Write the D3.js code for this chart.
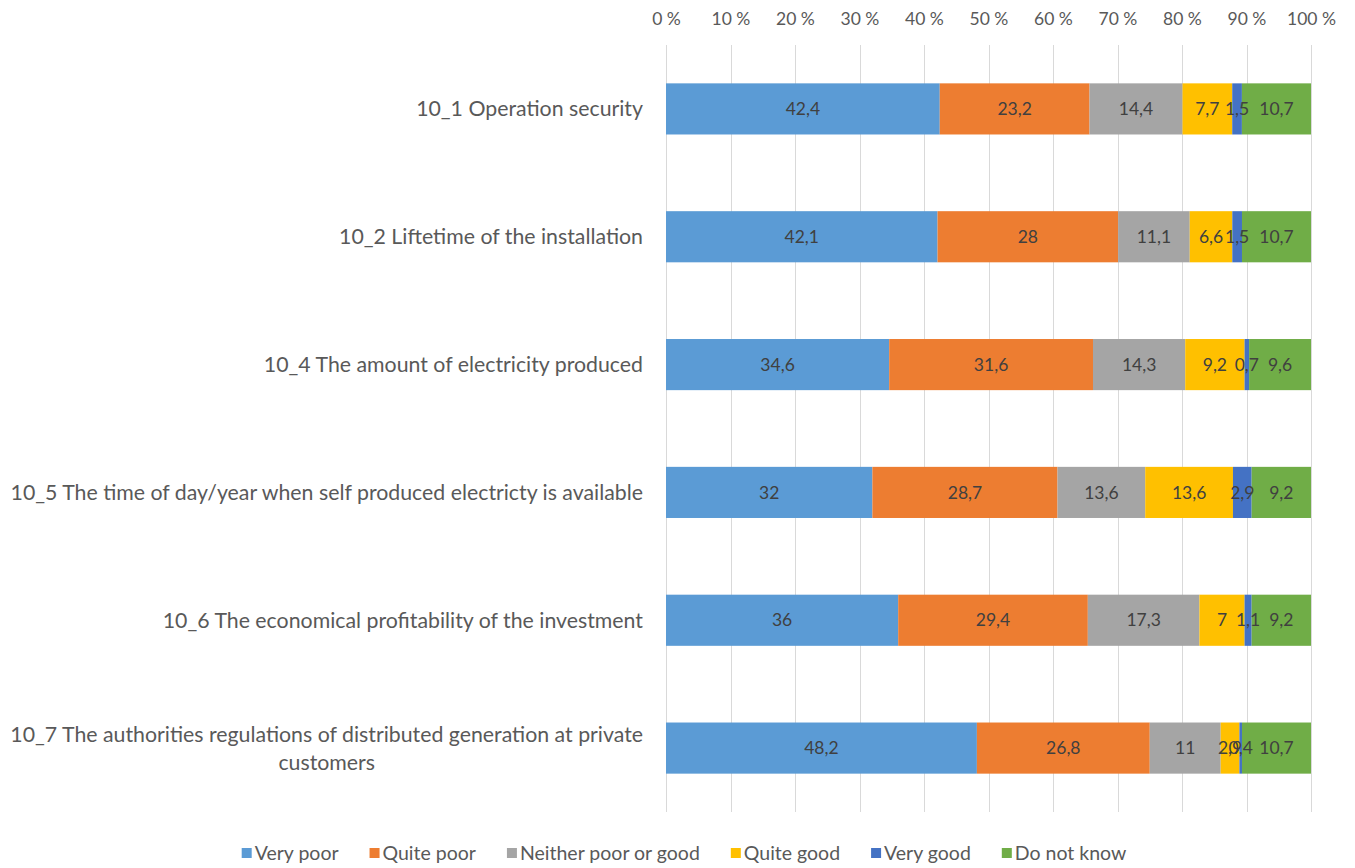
<!DOCTYPE html>
<html>
<head>
<meta charset="utf-8">
<script src="https://cdn.jsdelivr.net/npm/d3@7"></script>
<style>
  html, body { margin: 0; padding: 0; background: #ffffff; }
  svg { display: block; font-family: Lato, "Open Sans", sans-serif; }
</style>
</head>
<body>
<svg id="chart" width="1355" height="868"></svg>
<script>
// Questions (rows of the chart)
const categories = [
  "10_1 Operation security",
  "10_2 Liftetime of the installation",
  "10_4 The amount of electricity produced",
  "10_5 The time of day/year when self produced electricty is available",
  "10_6 The economical profitability of the investment",
  "10_7 The authorities regulations of distributed generation at private customers"
];

// Answer options (stack order, left to right)
const seriesNames = ["Very poor", "Quite poor", "Neither poor or good", "Quite good", "Very good", "Do not know"];
const seriesColors = ["#5B9BD5", "#ED7D31", "#A5A5A5", "#FFC000", "#4472C4", "#70AD47"];

// Percent of respondents per answer, one array per answer option
const veryPoor   = [42.4, 42.1, 34.6, 32.0, 36.0, 48.2];
const quitePoor  = [23.2, 28.0, 31.6, 28.7, 29.4, 26.8];
const neither    = [14.4, 11.1, 14.3, 13.6, 17.3, 11.0];
const quiteGood  = [7.7, 6.6, 9.2, 13.6, 7.0, 2.9];
const veryGood   = [1.5, 1.5, 0.7, 2.9, 1.1, 0.4];
const doNotKnow  = [10.7, 10.7, 9.6, 9.2, 9.2, 10.7];

// Axis ticks
const tickValues = [0, 10, 20, 30, 40, 50, 60, 70, 80, 90, 100];

const seriesValues = [veryPoor, quitePoor, neither, quiteGood, veryGood, doNotKnow];

// Build rows; each row is normalised to 100 % like a 100 % stacked bar
const rows = categories.map((c, i) => {
  const r = { category: c };
  seriesNames.forEach((s, j) => { r[s] = seriesValues[j][i]; });
  return r;
});
const stack = d3.stack().keys(seriesNames).offset(d3.stackOffsetExpand);
const stacked = stack(rows);

const svg = d3.select("#chart");

const plot = { left: 666, right: 1311, top: 45, bottom: 812 };

const x = d3.scaleLinear().domain([0, 1]).range([plot.left, plot.right]);
const y = d3.scaleBand().domain(categories)
  .range([plot.top, plot.bottom])
  .paddingInner(0.6).paddingOuter(0.3);

const color = d3.scaleOrdinal().domain(seriesNames).range(seriesColors);

const locale = d3.formatLocale({ decimal: ",", thousands: " ", grouping: [3], currency: ["", ""] });
const fmtVal = v => locale.format("~f")(Math.round(v * 10) / 10);

// Vertical gridlines
svg.append("g").selectAll("line")
  .data(tickValues)
  .join("line")
  .attr("x1", d => Math.round(x(d / 100)) + 0.5)
  .attr("x2", d => Math.round(x(d / 100)) + 0.5)
  .attr("y1", plot.top)
  .attr("y2", plot.bottom)
  .attr("stroke", "#D9D9D9")
  .attr("stroke-width", 1);

// Top axis labels
const axis = d3.axisTop(x)
  .tickValues(tickValues.map(t => t / 100))
  .tickSize(0)
  .tickPadding(0)
  .tickFormat(d => Math.round(d * 100) + " %");
const axisG = svg.append("g")
  .attr("transform", "translate(0, 25)")
  .call(axis);
axisG.select(".domain").remove();
axisG.selectAll("text")
  .attr("fill", "#595959")
  .style("font-family", "Lato, sans-serif")
  .style("font-size", "17.5px");

// Stacked bars
const layers = svg.append("g").selectAll("g")
  .data(stacked)
  .join("g")
  .attr("fill", d => color(d.key));

layers.selectAll("rect")
  .data(d => d.map(p => ({ key: d.key, p })))
  .join("rect")
  .attr("x", d => x(d.p[0]))
  .attr("width", d => x(d.p[1]) - x(d.p[0]))
  .attr("y", d => y(d.p.data.category))
  .attr("height", y.bandwidth());

// Value labels inside segments
const labelG = svg.append("g")
  .style("font-size", "17.5px")
  .attr("fill", "#404040")
  .attr("text-anchor", "middle");
stacked.forEach(layer => {
  layer.forEach(p => {
    labelG.append("text")
      .attr("x", (x(p[0]) + x(p[1])) / 2)
      .attr("y", y(p.data.category) + y.bandwidth() / 2)
      .attr("dy", "0.35em")
      .text(fmtVal(p.data[layer.key]));
  });
});

// Category labels, right-aligned block; long labels wrap to centered lines
const catG = svg.append("g")
  .attr("fill", "#595959")
  .style("font-size", "21.3px");
const labelRight = 643;
const maxLineWidth = 640;
categories.forEach(c => {
  const t = catG.append("text");
  const words = c.split(" ");
  const lines = [];
  let line = [];
  const probe = catG.append("text");
  words.forEach(w => {
    const trial = line.concat(w).join(" ");
    probe.text(trial);
    if (probe.node().getComputedTextLength() > maxLineWidth && line.length) {
      lines.push(line.join(" "));
      line = [w];
    } else {
      line.push(w);
    }
  });
  lines.push(line.join(" "));
  const widths = lines.map(l => { probe.text(l); return probe.node().getComputedTextLength(); });
  probe.remove();
  const blockW = d3.max(widths);
  const cy = y(c) + y.bandwidth() / 2;
  const lh = 28;
  t.attr("text-anchor", "middle")
    .attr("x", labelRight - blockW / 2);
  lines.forEach((l, i) => {
    t.append("tspan")
      .attr("x", labelRight - blockW / 2)
      .attr("y", cy + (i - (lines.length - 1) / 2) * lh)
      .attr("dy", "0.35em")
      .text(l);
  });
});

// Legend
const legendG = svg.append("g").style("font-size", "19.5px").attr("fill", "#595959");
const items = legendG.selectAll("g").data(seriesNames).join("g");
items.append("rect").attr("y", -5).attr("width", 10).attr("height", 10).attr("fill", d => color(d));
items.append("text").attr("x", 13).attr("y", 0).attr("dy", "0.35em").text(d => d);
let cursor = 0;
const gap = 31;
const pos = [];
items.each(function () {
  const w = this.getBBox().width;
  pos.push(cursor);
  cursor += w + gap;
});
const total = cursor - gap;
const legendCenter = 684;
const startX = legendCenter - total / 2;
items.attr("transform", (d, i) => `translate(${startX + pos[i]}, 853)`);
</script>
</body>
</html>
